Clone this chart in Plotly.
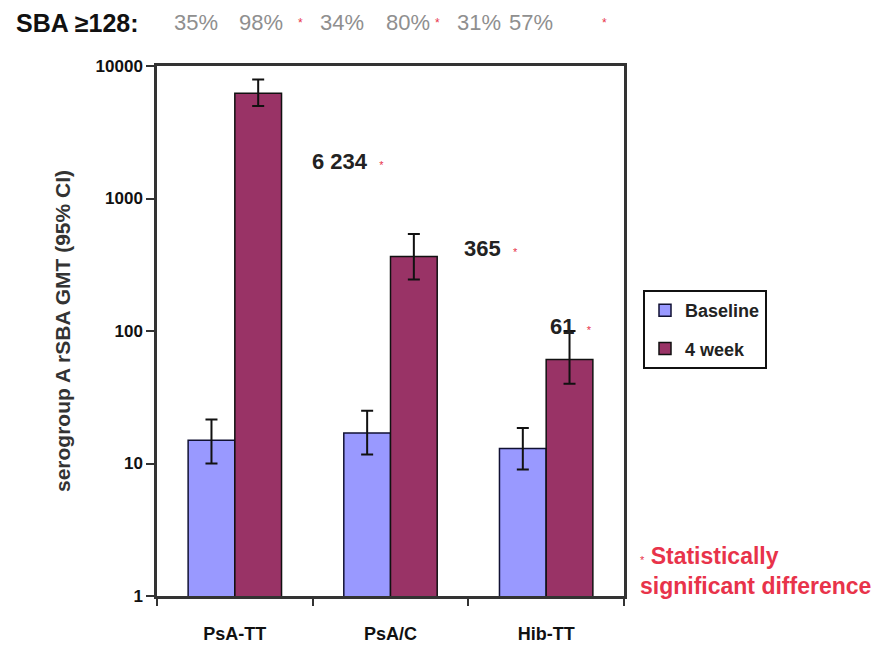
import math
import plotly.graph_objects as go

categories = ["PsA-TT", "PsA/C", "Hib-TT"]
baseline = [15, 17, 13]
baseline_hi = [21.5, 25, 18.5]
baseline_lo = [10, 11.7, 9]
week4 = [6234, 365, 61]
week4_hi = [7900, 540, 100]
week4_lo = [5000, 245, 40]
value_labels = ["6 234", "365", "61"]
sba_pct = ["35%", "98%", "34%", "80%", "31%", "57%"]
ytick_vals = [1, 10, 100, 1000, 10000]

FONT = "Liberation Sans, Arial, sans-serif"
RED = "#E8334A"

# plot-area geometry (pixels inside the page; body has 8px margin)
PL, PT, PW, PH = 157, 66, 467, 530
OFF = 8


def px_x(p):
    return (p - PL) / PW


def px_y(p):
    return (PT + PH - p) / PH


fig = go.Figure()
fig.add_trace(go.Bar(
    name="<b>Baseline</b>", x=categories, y=baseline,
    marker=dict(color="#9999FF", line=dict(color="#111133", width=1.5)),
    error_y=dict(type="data", symmetric=False,
                 array=[h - v for h, v in zip(baseline_hi, baseline)],
                 arrayminus=[v - l for l, v in zip(baseline_lo, baseline)],
                 color="#111111", thickness=2, width=6),
    legendgroup="a",
))
fig.add_trace(go.Bar(
    name="<b>4 week</b>", x=categories, y=week4,
    marker=dict(color="#993366", line=dict(color="#111111", width=1.5)),
    error_y=dict(type="data", symmetric=False,
                 array=[h - v for h, v in zip(week4_hi, week4)],
                 arrayminus=[v - l for l, v in zip(week4_lo, week4)],
                 color="#111111", thickness=2, width=6),
    legendgroup="b",
))

# value labels beside 4-week bars
offsets = [(0.483, -0.515), (0.46, 0.06), (0.01, 0.245)]
for i, (v, lab) in enumerate(zip(week4, value_labels)):
    dx, dy = offsets[i]
    fig.add_annotation(
        x=i + dx, y=math.log10(v) + dy, xref="x", yref="y",
        text=f"<b>{lab}</b>  <span style='color:{RED};font-size:11px'>*</span>",
        showarrow=False, xanchor="left", yanchor="middle",
        font=dict(family=FONT, size=22, color="#222222"),
    )

# header line
fig.add_annotation(
    x=px_x(14), y=px_y(23), xref="paper", yref="paper",
    text="<b>SBA ≥128:</b>", showarrow=False, xanchor="left", yanchor="middle",
    font=dict(family=FONT, size=25, color="#111111"),
)
pct_x = [172, 237, 318, 384, 455, 507]
for lab, p in zip(sba_pct, pct_x):
    fig.add_annotation(
        x=px_x(p), y=px_y(23), xref="paper", yref="paper",
        text=lab, showarrow=False, xanchor="left", yanchor="middle",
        font=dict(family=FONT, size=22, color="#8f8f8f"),
    )
for p in [300, 437, 604]:
    fig.add_annotation(
        x=px_x(p), y=px_y(23), xref="paper", yref="paper",
        text="*", showarrow=False, xanchor="center", yanchor="middle",
        font=dict(family=FONT, size=12, color=RED),
    )

# footnote
fig.add_annotation(
    x=px_x(638), y=px_y(571), xref="paper", yref="paper",
    text="<span style='font-size:11px'>*</span> <b>Statistically</b><br><b>significant difference</b>",
    showarrow=False, xanchor="left", yanchor="middle", align="left",
    font=dict(family=FONT, size=23, color=RED),
)

fig.update_layout(
    width=884 - OFF, height=649 - OFF,
    margin=dict(l=PL - OFF, r=884 - PL - PW, t=PT - OFF, b=649 - PT - PH),
    paper_bgcolor="white", plot_bgcolor="white",
    barmode="group", bargap=0.4, bargroupgap=0,
    font=dict(family=FONT, color="#111111"),
    showlegend=True,
    legend=dict(
        x=px_x(643), y=px_y(290), xanchor="left", yanchor="top",
        bordercolor="#111111", borderwidth=2, bgcolor="white",
        font=dict(family=FONT, size=18, color="#222222"),
        tracegroupgap=12, itemwidth=30,
    ),
    xaxis=dict(
        showline=True, linecolor="#333333", linewidth=2.5, mirror=True,
        ticks="outside", tickson="boundaries", ticklen=7, tickwidth=2, tickcolor="#333333",
        tickfont=dict(family=FONT, size=18, color="#111111"),
        tickprefix="<b>", ticksuffix="</b>", ticklabelstandoff=20,
        automargin=False,
    ),
    yaxis=dict(
        type="log", range=[0, 4], tickvals=ytick_vals,
        ticktext=[f"<b>{v}</b>" for v in ytick_vals],
        showline=True, linecolor="#333333", linewidth=2.5, mirror=True,
        ticks="outside", ticklen=8, tickwidth=2, tickcolor="#333333",
        showgrid=False, zeroline=False,
        tickfont=dict(family=FONT, size=17, color="#111111"),
        title=dict(text="<b>serogroup A rSBA GMT (95% CI)</b>", standoff=20,
                   font=dict(family=FONT, size=21, color="#333333")),
    ),
)

fig.write_html("out.html")
